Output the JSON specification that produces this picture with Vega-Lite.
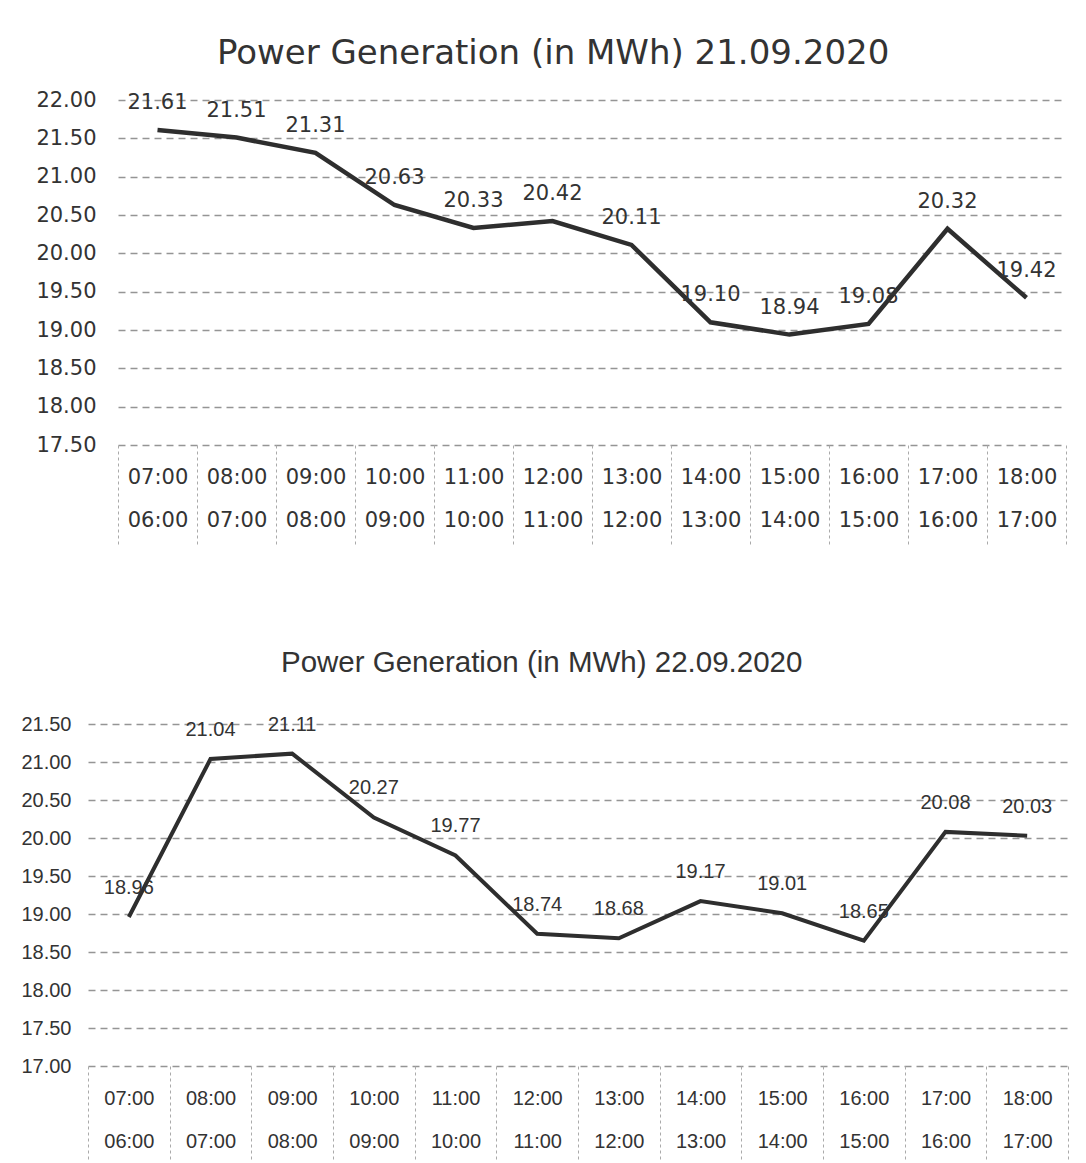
{
  "$schema": "https://vega.github.io/schema/vega-lite/v6.json",
  "background": "white",
  "padding": {"left": 20, "top": 37, "right": 5, "bottom": 5},
  "spacing": 101,
  "datasets": {
    "d1": [
      {"slot": "07:00|06:00", "mwh": 21.61},
      {"slot": "08:00|07:00", "mwh": 21.51},
      {"slot": "09:00|08:00", "mwh": 21.31},
      {"slot": "10:00|09:00", "mwh": 20.63},
      {"slot": "11:00|10:00", "mwh": 20.33},
      {"slot": "12:00|11:00", "mwh": 20.42},
      {"slot": "13:00|12:00", "mwh": 20.11},
      {"slot": "14:00|13:00", "mwh": 19.10},
      {"slot": "15:00|14:00", "mwh": 18.94},
      {"slot": "16:00|15:00", "mwh": 19.08},
      {"slot": "17:00|16:00", "mwh": 20.32},
      {"slot": "18:00|17:00", "mwh": 19.42}
    ],
    "d2": [
      {"slot": "07:00|06:00", "mwh": 18.96},
      {"slot": "08:00|07:00", "mwh": 21.04},
      {"slot": "09:00|08:00", "mwh": 21.11},
      {"slot": "10:00|09:00", "mwh": 20.27},
      {"slot": "11:00|10:00", "mwh": 19.77},
      {"slot": "12:00|11:00", "mwh": 18.74},
      {"slot": "13:00|12:00", "mwh": 18.68},
      {"slot": "14:00|13:00", "mwh": 19.17},
      {"slot": "15:00|14:00", "mwh": 19.01},
      {"slot": "16:00|15:00", "mwh": 18.65},
      {"slot": "17:00|16:00", "mwh": 20.08},
      {"slot": "18:00|17:00", "mwh": 20.03}
    ]
  },
  "config": {"view": {"stroke": null}},
  "vconcat": [
    {
      "data": {"name": "d1"},
      "width": 980,
      "height": 345,
      "title": {"text": "Power Generation (in MWh) 21.09.2020", "font": "DejaVu Sans", "fontSize": 34, "fontWeight": "normal", "color": "#333333", "offset": 18, "anchor": "start", "dx": 181},
      "encoding": {
        "x": {"field": "slot", "type": "ordinal", "sort": null, "bandPosition": 0.5,
          "scale": {"type": "band", "paddingInner": 0, "paddingOuter": 0, "range": [30, 978]},
          "axis": {"title": null, "labelAngle": 0, "labelExpr": "datum.value ? split(datum.value, '|') : ''", "labelLineHeight": 43,
            "labelFont": "DejaVu Sans", "labelFontSize": 21, "labelColor": "#333333", "labelBaseline": "top",
            "domain": false, "ticks": true, "tickBand": "extent", "tickSize": 100, "tickDash": [3, 3], "tickColor": "#aaaaaa", "tickWidth": 1,
            "labelPadding": -79, "grid": false}},
        "y": {"field": "mwh", "type": "quantitative",
          "scale": {"domain": [17.5, 22], "nice": false, "zero": false},
          "axis": {"title": null, "values": [17.5, 18, 18.5, 19, 19.5, 20, 20.5, 21, 21.5, 22], "format": ".2f", "offset": -30,
            "labelFont": "DejaVu Sans", "labelFontSize": 21, "labelColor": "#333333", "labelPadding": 22,
            "domain": false, "ticks": false, "grid": true, "gridColor": "#959595", "gridDash": [7, 5], "gridWidth": 1.4}}
      },
      "layer": [
        {"mark": {"type": "line", "color": "#2e2e2e", "strokeWidth": 4.5}},
        {"mark": {"type": "text", "font": "DejaVu Sans", "fontSize": 21, "color": "#333333", "dy": -27, "baseline": "middle"},
          "encoding": {"text": {"field": "mwh", "type": "quantitative", "format": ".2f"}}}
      ]
    },
    {
      "data": {"name": "d2"},
      "width": 980,
      "height": 342,
      "title": {"text": "Power Generation (in MWh) 22.09.2020", "font": "Liberation Sans", "fontSize": 29.5, "fontWeight": "normal", "color": "#333333", "offset": 36, "anchor": "start", "dx": 260},
      "encoding": {
        "x": {"field": "slot", "type": "ordinal", "sort": null, "bandPosition": 0.5,
          "scale": {"type": "band", "paddingInner": 0, "paddingOuter": 0},
          "axis": {"title": null, "labelAngle": 0, "labelExpr": "datum.value ? split(datum.value, '|') : ''", "labelLineHeight": 43,
            "labelFont": "Liberation Sans", "labelFontSize": 20, "labelColor": "#333333", "labelBaseline": "top",
            "domain": false, "ticks": true, "tickBand": "extent", "tickSize": 95, "tickDash": [3, 3], "tickColor": "#aaaaaa", "tickWidth": 1,
            "labelPadding": -73, "grid": false}},
        "y": {"field": "mwh", "type": "quantitative",
          "scale": {"domain": [17, 21.5], "nice": false, "zero": false},
          "axis": {"title": null, "values": [17, 17.5, 18, 18.5, 19, 19.5, 20, 20.5, 21, 21.5], "format": ".2f",
            "labelFont": "Liberation Sans", "labelFontSize": 20, "labelColor": "#333333", "labelPadding": 17,
            "domain": false, "ticks": false, "grid": true, "gridColor": "#959595", "gridDash": [7, 5], "gridWidth": 1.4}}
      },
      "layer": [
        {"mark": {"type": "line", "color": "#2e2e2e", "strokeWidth": 4}},
        {"mark": {"type": "text", "font": "Liberation Sans", "fontSize": 20, "color": "#333333", "dy": -29, "baseline": "middle"},
          "encoding": {"text": {"field": "mwh", "type": "quantitative", "format": ".2f"}}}
      ]
    }
  ]
}
